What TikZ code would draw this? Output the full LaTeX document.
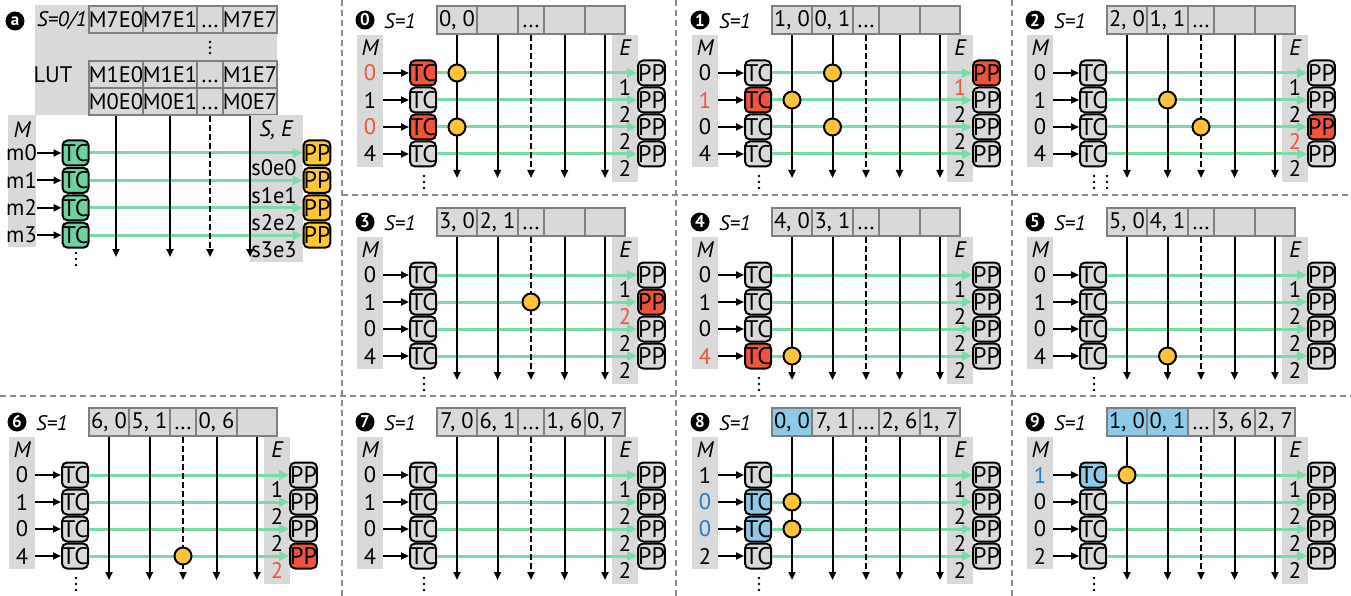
\documentclass[tikz,border=0pt]{standalone}
\usepackage{fontspec}
\setmainfont{PT Sans}
\usetikzlibrary{arrows.meta}

\definecolor{cellgray}{RGB}{217,217,217}
\definecolor{bordergray}{RGB}{128,128,128}
\definecolor{sepgray}{RGB}{140,140,140}
\definecolor{tcgreen}{RGB}{106,211,160}
\definecolor{lanegreen}{RGB}{122,220,168}
\definecolor{ppyellow}{RGB}{255,200,50}
\definecolor{hityellow}{RGB}{255,195,55}
\definecolor{hotred}{RGB}{240,84,58}
\definecolor{coolblue}{RGB}{142,202,232}
\definecolor{bluetext}{RGB}{30,125,205}

\newcommand\bigtxt{\fontsize{22.5}{25}\selectfont}
\newcommand\unittxt{\fontsize{24}{26}\selectfont}
% baseline ellipsis, kept on the text baseline
\newcommand\lutdots{\vphantom{0}.\kern1.2pt.\kern1.2pt.}

\tikzset{
  badge/.style={circle, fill=black, text=white, inner sep=0pt, minimum size=19pt,
    font=\fontsize{17}{17}\selectfont\bfseries},
  stlabel/.style={inner sep=0pt, font=\fontsize{21}{22}\selectfont\itshape},
  hdr/.style={inner sep=0pt, font=\bigtxt\itshape},
  val/.style={inner sep=0pt, minimum width=26pt, font=\bigtxt},
  unit/.style={draw=black, line width=2pt, rounded corners=5pt, minimum width=26pt,
    minimum height=25pt, inner sep=0pt, font=\unittxt},
  lutcell/.style={draw=bordergray, line width=2pt, fill=cellgray, minimum height=28pt,
    inner sep=0pt, font=\bigtxt},
  lane/.style={lanegreen, line width=3pt, -{Triangle[length=10pt,width=9pt]}},
  feed/.style={black, line width=2pt, -{Triangle[length=8pt,width=7pt]}},
  bus/.style={black, line width=2pt, -{Triangle[length=8pt,width=7pt]}},
  busdash/.style={bus, dash pattern=on 6pt off 3pt},
  hit/.style={circle, draw=black, line width=2pt, fill=hityellow, minimum size=17pt, inner sep=0pt},
  sep/.style={sepgray, line width=2pt, dash pattern=on 6pt off 4pt},
}

% one processing step: #1 name, #2 badge, #3/#4 offset, #5 LUT cells (text/fill),
% #6 M rows (value/text colour/TC fill), #7 PP rows (E value/text colour/PP fill)
\newcommand\stage[7]{%
\begin{scope}[shift={(#3,#4)}]
  \fill[cellgray] (17,35) rectangle (43,167);
  \fill[cellgray] (272,35) rectangle (298,182);
  \node[badge] (#1-b) at (25,20) {#2};
  \node[stlabel] (#1-s) at (60,21) {S=1};
  \node[hdr] (#1-mh) at (30,48) {M};
  \node[hdr] (#1-eh) at (285,48) {E};
  \coordinate (#1-base) at (0,178);
  \foreach \lx/\lf [count=\j from 0] in {#5}{
    \pgfmathsetmacro\cl{{97,137,178,204,245}[\j]}
    \pgfmathsetmacro\cr{{137,178,204,245,285}[\j]}
    \pgfmathsetmacro\cmid{(\cl+\cr)/2}
    \pgfmathsetmacro\cwid{\cr-\cl}
    \node[lutcell, fill=\lf, minimum width=\cwid pt] (#1-l\j) at (\cmid,20) {\lx};
  }
  \foreach \mv/\mc/\mf [count=\i from 0] in {#6}{
    \pgfmathsetmacro\yy{73+27*\i}
    \node[val, text=\mc] (#1-m\i) at (30,\yy) {\mv};
    \node[unit, fill=\mf] (#1-t\i) at (83,\yy) {TC};
    \draw[feed] (#1-m\i.east) -- (#1-t\i.west);
  }
  \foreach \ev/\ec/\ef [count=\i from 0] in {#7}{
    \pgfmathsetmacro\yy{73+27*\i}
    \node[unit, fill=\ef] (#1-p\i) at (311.5,\yy) {PP};
    \node[val, text=\ec] (#1-x\i) at (285,\yy+14) {\ev};
    \draw[lane] (#1-t\i.east) -- (#1-p\i.west);
  }
  \foreach \j in {0,1,3,4}{
    \coordinate (#1-e\j) at (#1-l\j.south |- #1-base);
    \draw[bus] (#1-l\j.south) -- (#1-e\j);
  }
  \coordinate (#1-e2) at (#1-l2.south |- #1-base);
  \draw[busdash] (#1-l2.south) -- (#1-e2);
  \foreach \dd in {0,1,2}{\fill (84,{176+6*\dd}) circle (1.3pt);}
\end{scope}}

% a match on bus #2 at row #3
\newcommand\hit[3]{\node[hit] (#1-h#2#3) at (#1-l#2.south |- #1-t#3) {};}

\begin{document}
\begin{tikzpicture}[x=1pt,y=-1pt]
\useasboundingbox (0,0) rectangle (1351,596);

% ---- (a) overview ----
\fill[cellgray] (35,5) rectangle (277,115);
\node[badge] (a-b) at (15,21) {a};
\node[stlabel] (a-s) at (62,21) {S=0/1};
\foreach \rr/\ry in {7/19.5,1/74.5,0/101.5}{
  \node[lutcell, minimum height=27pt, minimum width=54pt] (a-\rr-0) at (116,\ry) {M\rr E0};
  \node[lutcell, minimum height=27pt, minimum width=54pt] (a-\rr-1) at (170,\ry) {M\rr E1};
  \node[lutcell, minimum height=27pt, minimum width=26pt] (a-\rr-2) at (210,\ry) {\lutdots};
  \node[lutcell, minimum height=27pt, minimum width=54pt] (a-\rr-3) at (250,\ry) {M\rr E7};
}
\foreach \dd in {0,1,2}{\fill (210,{42+5.5*\dd}) circle (1.3pt);}
\node[inner sep=0pt, font=\bigtxt] (a-lut) at (53,75) {LUT};
\fill[cellgray] (8,115) rectangle (36,247);
\fill[cellgray] (250,115) rectangle (303,262);
\node[hdr] (a-mh) at (22,130) {M};
\node[hdr] (a-eh) at (276,130) {S, E};
\foreach \i in {0,...,3}{
  \pgfmathsetmacro\yy{153+27.4*\i}
  \node[val, minimum width=27pt] (a-m\i) at (21.5,\yy) {m\i};
  \node[unit, fill=tcgreen] (a-t\i) at (75.5,\yy) {TC};
  \node[unit, fill=ppyellow] (a-p\i) at (317,\yy) {PP};
  \node[val] (a-x\i) at (274,\yy+15) {s\i e\i};
  \draw[feed] (a-m\i.east) -- (a-t\i.west);
  \draw[lane] (a-t\i.east) -- (a-p\i.west);
}
\coordinate (a-base) at (0,257);
\foreach \j in {0,1,3}{
  \coordinate (a-e\j) at (a-0-\j.south |- a-base);
  \draw[bus] (a-0-\j.south) -- (a-e\j);
}
\coordinate (a-e2) at (a-0-2.south |- a-base);
\draw[busdash] (a-0-2.south) -- (a-e2);
\foreach \dd in {0,1,2}{\fill (76,{253+6*\dd}) circle (1.3pt);}

% ---- step 0 ----
\stage{s0}{0}{340}{0}
  {{0, 0}/cellgray,{}/cellgray,\lutdots/cellgray,{}/cellgray,{}/cellgray}
  {0/hotred/hotred,1/black/cellgray,0/hotred/hotred,4/black/cellgray}
  {1/black/cellgray,2/black/cellgray,2/black/cellgray,2/black/cellgray}
\hit{s0}{0}{0}\hit{s0}{0}{2}

% ---- step 1 ----
\stage{s1}{1}{675}{0}
  {{1, 0}/cellgray,{0, 1}/cellgray,\lutdots/cellgray,{}/cellgray,{}/cellgray}
  {0/black/cellgray,1/hotred/hotred,0/black/cellgray,4/black/cellgray}
  {1/hotred/hotred,2/black/cellgray,2/black/cellgray,2/black/cellgray}
\hit{s1}{0}{1}\hit{s1}{1}{0}\hit{s1}{1}{2}

% ---- step 2 ----
\stage{s2}{2}{1010}{0}
  {{2, 0}/cellgray,{1, 1}/cellgray,\lutdots/cellgray,{}/cellgray,{}/cellgray}
  {0/black/cellgray,1/black/cellgray,0/black/cellgray,4/black/cellgray}
  {1/black/cellgray,2/black/cellgray,2/hotred/hotred,2/black/cellgray}
\hit{s2}{1}{1}\hit{s2}{2}{2}
\foreach \dd in {0,1,2}{\fill (1107,{176+6*\dd}) circle (1.3pt);}

% ---- step 3 ----
\stage{s3}{3}{340}{202}
  {{3, 0}/cellgray,{2, 1}/cellgray,\lutdots/cellgray,{}/cellgray,{}/cellgray}
  {0/black/cellgray,1/black/cellgray,0/black/cellgray,4/black/cellgray}
  {1/black/cellgray,2/hotred/hotred,2/black/cellgray,2/black/cellgray}
\hit{s3}{2}{1}

% ---- step 4 ----
\stage{s4}{4}{675}{202}
  {{4, 0}/cellgray,{3, 1}/cellgray,\lutdots/cellgray,{}/cellgray,{}/cellgray}
  {0/black/cellgray,1/black/cellgray,0/black/cellgray,4/hotred/hotred}
  {1/black/cellgray,2/black/cellgray,2/black/cellgray,2/black/cellgray}
\hit{s4}{0}{3}

% ---- step 5 ----
\stage{s5}{5}{1010}{202}
  {{5, 0}/cellgray,{4, 1}/cellgray,\lutdots/cellgray,{}/cellgray,{}/cellgray}
  {0/black/cellgray,1/black/cellgray,0/black/cellgray,4/black/cellgray}
  {1/black/cellgray,2/black/cellgray,2/black/cellgray,2/black/cellgray}
\hit{s5}{1}{3}

% ---- step 6 ----
\stage{s6}{6}{-8}{402}
  {{6, 0}/cellgray,{5, 1}/cellgray,\lutdots/cellgray,{0, 6}/cellgray,{}/cellgray}
  {0/black/cellgray,1/black/cellgray,0/black/cellgray,4/black/cellgray}
  {1/black/cellgray,2/black/cellgray,2/black/cellgray,2/hotred/hotred}
\hit{s6}{2}{3}

% ---- step 7 ----
\stage{s7}{7}{340}{402}
  {{7, 0}/cellgray,{6, 1}/cellgray,\lutdots/cellgray,{1, 6}/cellgray,{0, 7}/cellgray}
  {0/black/cellgray,1/black/cellgray,0/black/cellgray,4/black/cellgray}
  {1/black/cellgray,2/black/cellgray,2/black/cellgray,2/black/cellgray}

% ---- step 8 ----
\stage{s8}{8}{675}{402}
  {{0, 0}/coolblue,{7, 1}/cellgray,\lutdots/cellgray,{2, 6}/cellgray,{1, 7}/cellgray}
  {1/black/cellgray,0/bluetext/coolblue,0/bluetext/coolblue,2/black/cellgray}
  {1/black/cellgray,2/black/cellgray,2/black/cellgray,2/black/cellgray}
\hit{s8}{0}{1}\hit{s8}{0}{2}

% ---- step 9 ----
\stage{s9}{9}{1010}{402}
  {{1, 0}/coolblue,{0, 1}/coolblue,\lutdots/cellgray,{3, 6}/cellgray,{2, 7}/cellgray}
  {1/bluetext/coolblue,0/black/cellgray,0/black/cellgray,2/black/cellgray}
  {1/black/cellgray,2/black/cellgray,2/black/cellgray,2/black/cellgray}
\hit{s9}{0}{0}

% ---- separators ----
\draw[sep] (342,0) -- (342,596);
\draw[sep] (676,0) -- (676,596);
\draw[sep] (1012,0) -- (1012,596);
\draw[sep] (342,195) -- (1351,195);
\draw[sep] (0,396) -- (1351,396);
\end{tikzpicture}
\end{document}
